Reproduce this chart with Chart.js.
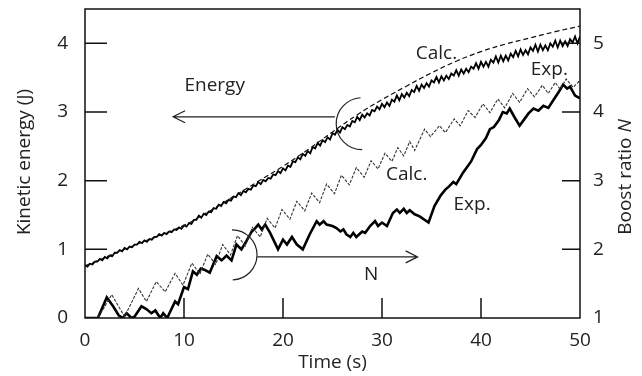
<!doctype html>
<html lang="en">
<head>
  <meta charset="UTF-8">
  <title>Kinetic energy and boost ratio</title>
  <style>
    html, body { margin: 0; padding: 0; background: #fff; }
    #chart { display: block; }
  </style>
</head>
<body>
  <canvas id="chart" width="642" height="376"></canvas>

  <script src="https://cdn.jsdelivr.net/npm/chart.js@4.4.1/dist/chart.umd.min.js"></script>
  <script>
    // axis ticks
    const timeTicks = [0, 10, 20, 30, 40, 50];
    const energyTicks = [0, 1, 2, 3, 4];
    const boostTicks = [1, 2, 3, 4, 5];

    // kinetic energy, calculated (J)
    const energyCalcT = [0, 2.5, 5, 7.5, 10, 12.5, 15, 17.5, 20, 22.5, 25, 27.5, 30, 32.5, 35, 37.5, 40, 42.5, 45, 47.5, 50];
    const energyCalc = [0.76, 0.91, 1.06, 1.20, 1.35, 1.55, 1.77, 1.99, 2.21, 2.45, 2.71, 2.96, 3.18, 3.38, 3.57, 3.74, 3.88, 3.99, 4.08, 4.17, 4.25];

    // kinetic energy, measured (J), one sample every 0.25 s
    const energyExp = [
      0.77, 0.75, 0.79, 0.78, 0.82, 0.82, 0.86, 0.84, 0.89, 0.87, 0.91, 0.90, 0.95, 0.95, 0.99, 0.97, 1.02, 1.00, 1.04, 1.03,
      1.07, 1.07, 1.11, 1.09, 1.13, 1.11, 1.15, 1.14, 1.18, 1.18, 1.22, 1.20, 1.24, 1.22, 1.26, 1.25, 1.29, 1.28, 1.32, 1.30,
      1.35, 1.33, 1.38, 1.37, 1.43, 1.43, 1.49, 1.46, 1.52, 1.50, 1.55, 1.54, 1.60, 1.59, 1.65, 1.63, 1.69, 1.67, 1.72, 1.71,
      1.77, 1.76, 1.82, 1.79, 1.85, 1.83, 1.88, 1.87, 1.93, 1.92, 1.98, 1.95, 2.01, 1.99, 2.04, 2.03, 2.09, 2.08, 2.14, 2.11,
      2.18, 2.15, 2.22, 2.20, 2.28, 2.27, 2.34, 2.31, 2.39, 2.36, 2.43, 2.40, 2.49, 2.47, 2.55, 2.51, 2.59, 2.56, 2.63, 2.60,
      2.69, 2.67, 2.74, 2.70, 2.78, 2.75, 2.81, 2.79, 2.87, 2.85, 2.93, 2.88, 2.96, 2.92, 2.98, 2.95, 3.03, 3.01, 3.08, 3.04,
      3.12, 3.07, 3.14, 3.09, 3.18, 3.15, 3.24, 3.17, 3.26, 3.21, 3.28, 3.23, 3.32, 3.29, 3.38, 3.31, 3.40, 3.35, 3.42, 3.37,
      3.46, 3.43, 3.51, 3.43, 3.52, 3.46, 3.53, 3.48, 3.56, 3.53, 3.61, 3.53, 3.62, 3.56, 3.63, 3.58, 3.66, 3.63, 3.71, 3.63,
      3.73, 3.66, 3.73, 3.66, 3.76, 3.72, 3.81, 3.72, 3.82, 3.74, 3.82, 3.75, 3.85, 3.80, 3.89, 3.81, 3.91, 3.83, 3.90, 3.84,
      3.94, 3.89, 3.98, 3.88, 3.98, 3.90, 3.97, 3.90, 4.00, 3.95, 4.04, 3.94, 4.04, 3.96, 4.03, 3.96, 4.06, 4.01, 4.10, 4.00,
      4.10
    ];
    const energyStep = 0.25;

    // boost ratio N, calculated
    const nCalcT = [0, 1.3, 2.7, 4.0, 5.4, 6.2, 7.2, 8.1, 9.1, 9.9, 10.8, 11.6, 12.4, 13.2, 13.9, 14.7, 15.4, 16.2, 16.9, 17.7,
      18.4, 19.2, 19.9, 20.7, 21.4, 22.2, 22.9, 23.7, 24.4, 25.2, 25.9, 26.7, 27.4, 28.2, 28.9, 29.6, 30.3, 31.0, 31.6, 32.2,
      32.8, 33.3, 34.3, 34.9, 35.8, 36.4, 37.3, 37.9, 38.7, 39.4, 40.2, 40.9, 41.7, 42.4, 43.2, 43.9, 44.7, 45.4, 46.2, 46.8,
      47.5, 48.0, 48.6, 49.3, 50.0];
    const nCalc = [1.00, 1.00, 1.34, 1.02, 1.43, 1.24, 1.53, 1.38, 1.65, 1.48, 1.80, 1.64, 1.93, 1.78, 2.07, 1.92, 2.20, 2.05, 2.32, 2.18,
      2.45, 2.31, 2.58, 2.44, 2.70, 2.56, 2.82, 2.68, 2.95, 2.81, 3.08, 2.94, 3.19, 3.05, 3.29, 3.17, 3.40, 3.28, 3.48, 3.36,
      3.57, 3.44, 3.75, 3.64, 3.80, 3.70, 3.90, 3.80, 4.02, 3.92, 4.12, 3.99, 4.19, 4.06, 4.27, 4.14, 4.34, 4.22, 4.39, 4.27,
      4.43, 4.33, 4.48, 4.36, 4.46];

    // boost ratio N, measured
    const nExpT = [0, 1.3, 2.2, 2.8, 3.4, 3.8, 4.2, 4.7, 5.0, 5.7, 6.2, 6.7, 7.1, 7.6, 7.9, 8.3, 9.1, 9.4, 10.0, 10.4,
      10.9, 11.3, 11.7, 12.1, 12.6, 13.3, 13.8, 14.3, 14.8, 15.3, 15.8, 16.3, 16.8, 17.2, 17.5, 17.85, 18.2, 18.7, 19.5, 20.0,
      20.4, 20.9, 21.4, 22.0, 22.7, 23.4, 23.7, 24.1, 24.4, 25.0, 25.4, 25.8, 26.1, 26.4, 26.8, 27.1, 27.4, 28.0, 28.3, 28.8,
      29.3, 29.6, 30.0, 30.5, 31.1, 31.5, 31.8, 32.2, 32.5, 32.8, 33.3, 33.8, 34.7, 35.3, 35.9, 36.4, 36.8, 37.2, 37.5, 38.2,
      38.6, 39.0, 39.6, 40.0, 40.5, 40.9, 41.3, 41.8, 42.2, 42.6, 42.9, 43.4, 43.9, 44.4, 44.8, 45.3, 45.8, 46.3, 46.8, 47.3,
      47.8, 48.3, 48.7, 49.0, 49.5, 50.0];
    const nExp = [1.00, 1.00, 1.30, 1.18, 1.04, 1.00, 1.07, 1.00, 1.02, 1.17, 1.13, 1.07, 1.11, 1.00, 1.07, 1.00, 1.24, 1.20, 1.45, 1.42,
      1.68, 1.63, 1.72, 1.70, 1.66, 1.90, 1.84, 1.91, 1.84, 2.07, 2.00, 2.12, 2.25, 2.31, 2.36, 2.29, 2.36, 2.24, 2.00, 2.14,
      2.07, 2.18, 2.07, 2.00, 2.22, 2.41, 2.36, 2.41, 2.36, 2.34, 2.31, 2.26, 2.29, 2.22, 2.18, 2.24, 2.18, 2.26, 2.24, 2.34,
      2.41, 2.34, 2.39, 2.34, 2.53, 2.58, 2.53, 2.59, 2.53, 2.57, 2.51, 2.48, 2.39, 2.63, 2.78, 2.87, 2.92, 2.98, 2.95, 3.12,
      3.20, 3.28, 3.46, 3.52, 3.62, 3.75, 3.78, 3.88, 4.00, 3.98, 4.05, 3.92, 3.80, 3.90, 3.98, 4.05, 4.02, 4.09, 4.06, 4.17,
      4.28, 4.40, 4.34, 4.37, 4.24, 4.20];

    const FONT = '"Open Sans", Lato, sans-serif';
    const SIZE = 19;
    const INK = '#222';

    function pts(xs, ys) {
      return ys.map((v, i) => ({ x: xs[i], y: v }));
    }

    function arrowLine(ctx, x1, y, x2) {
      // straight line ending in an open arrow head at x2
      const dir = Math.sign(x2 - x1);
      ctx.beginPath();
      ctx.moveTo(x1, y);
      ctx.lineTo(x2, y);
      ctx.moveTo(x2 - dir * 12, y - 6);
      ctx.lineTo(x2, y);
      ctx.lineTo(x2 - dir * 12, y + 6);
      ctx.stroke();
    }

    const decor = {
      id: 'decor',
      afterDatasetsDraw(chart) {
        const { ctx, chartArea: a } = chart;
        const { x, yE, yN } = chart.scales;
        ctx.save();

        // frame
        ctx.strokeStyle = '#111';
        ctx.lineWidth = 1.5;
        ctx.strokeRect(a.left, a.top, a.right - a.left, a.bottom - a.top);

        // inward tick marks
        ctx.beginPath();
        timeTicks.slice(1, -1).forEach(v => {
          const px = x.getPixelForValue(v);
          ctx.moveTo(px, a.bottom);
          ctx.lineTo(px, a.bottom - 20);
        });
        energyTicks.slice(1).forEach(v => {
          const py = yE.getPixelForValue(v);
          ctx.moveTo(a.left, py);
          ctx.lineTo(a.left + 22, py);
        });
        boostTicks.slice(1).forEach(v => {
          const py = yN.getPixelForValue(v);
          ctx.moveTo(a.right, py);
          ctx.lineTo(a.right - 18, py);
        });
        ctx.stroke();

        // brackets and arrows
        ctx.lineWidth = 1.2;
        ctx.strokeStyle = '#222';
        ctx.beginPath();
        ctx.arc(x.getPixelForValue(28.0), yE.getPixelForValue(2.83), 26, Math.PI * 0.5, Math.PI * 1.48);
        ctx.stroke();
        ctx.beginPath();
        ctx.arc(x.getPixelForValue(14.85), yN.getPixelForValue(1.92), 25, -Math.PI * 0.5, Math.PI * 0.49);
        ctx.stroke();

        const eY = yE.getPixelForValue(2.93);
        arrowLine(ctx, x.getPixelForValue(25.25), eY, x.getPixelForValue(8.9));
        const nY = yN.getPixelForValue(1.89);
        arrowLine(ctx, x.getPixelForValue(17.4), nY, x.getPixelForValue(33.6));

        // in-plot labels
        ctx.fillStyle = INK;
        ctx.font = SIZE + 'px ' + FONT;
        ctx.textAlign = 'center';
        ctx.textBaseline = 'middle';
        ctx.fillText('Energy', x.getPixelForValue(13.1), yE.getPixelForValue(3.38));
        ctx.fillText('N', x.getPixelForValue(28.9), yN.getPixelForValue(1.63));
        ctx.fillText('Calc.', x.getPixelForValue(35.5), yE.getPixelForValue(3.85));
        ctx.fillText('Exp.', x.getPixelForValue(46.9), yE.getPixelForValue(3.62));
        ctx.fillText('Calc.', x.getPixelForValue(32.5), yN.getPixelForValue(3.09));
        ctx.fillText('Exp.', x.getPixelForValue(39.1), yN.getPixelForValue(2.65));

        // axis titles
        ctx.fillText('Time (s)', (a.left + a.right) / 2, 363);

        ctx.save();
        ctx.translate(25, 162);
        ctx.rotate(-Math.PI / 2);
        ctx.fillText('Kinetic energy (J)', 0, 0);
        ctx.restore();

        ctx.save();
        ctx.translate(626, 177);
        ctx.rotate(-Math.PI / 2);
        const head = 'Boost ratio ';
        ctx.font = SIZE + 'px ' + FONT;
        const w1 = ctx.measureText(head).width;
        ctx.font = 'italic ' + SIZE + 'px ' + FONT;
        const w2 = ctx.measureText('N').width;
        ctx.textAlign = 'left';
        ctx.font = SIZE + 'px ' + FONT;
        ctx.fillText(head, -(w1 + w2) / 2, 0);
        ctx.font = 'italic ' + SIZE + 'px ' + FONT;
        ctx.fillText('N', -(w1 + w2) / 2 + w1, 0);
        ctx.restore();

        ctx.restore();
      }
    };

    const tickFont = { family: FONT, size: SIZE };

    // keep the plot box fixed: no extra room for half tick labels
    function noPad(s) {
      s.paddingTop = 0;
      s.paddingBottom = 0;
      s.paddingLeft = 0;
      s.paddingRight = 0;
    }

    new Chart('chart', {
      type: 'scatter',
      data: {
        datasets: [
          {
            label: 'Energy calc.',
            data: pts(energyCalcT, energyCalc),
            yAxisID: 'yE',
            showLine: true,
            borderColor: '#111',
            borderWidth: 1.2,
            borderDash: [5, 3],
            tension: 0.4,
            pointRadius: 0
          },
          {
            label: 'Energy exp.',
            data: energyExp.map((v, i) => ({ x: i * energyStep, y: v })),
            yAxisID: 'yE',
            showLine: true,
            borderColor: '#000',
            borderWidth: 1.8,
            pointRadius: 0
          },
          {
            label: 'N calc.',
            data: pts(nCalcT, nCalc),
            yAxisID: 'yN',
            showLine: true,
            borderColor: '#333',
            borderWidth: 1.1,
            borderDash: [3, 1.5],
            pointRadius: 0
          },
          {
            label: 'N exp.',
            data: pts(nExpT, nExp),
            yAxisID: 'yN',
            showLine: true,
            borderColor: '#000',
            borderWidth: 2.6,
            pointRadius: 0
          }
        ]
      },
      options: {
        responsive: false,
        animation: false,
        layout: { padding: { top: 9, right: 0, bottom: 0, left: 0 } },
        plugins: { legend: { display: false }, tooltip: { enabled: false } },
        scales: {
          x: {
            type: 'linear',
            position: 'bottom',
            min: 0,
            max: 50,
            afterBuildTicks: s => { s.ticks = timeTicks.map(v => ({ value: v })); },
            afterFit: s => { s.height = 58; noPad(s); },
            grid: { display: false, drawTicks: false },
            border: { display: false },
            ticks: { font: tickFont, color: INK, padding: 11, maxRotation: 0 }
          },
          yE: {
            type: 'linear',
            position: 'left',
            min: 0,
            max: 4.5,
            afterBuildTicks: s => { s.ticks = energyTicks.map(v => ({ value: v })); },
            afterFit: s => { s.width = 85; noPad(s); },
            grid: { display: false, drawTicks: false },
            border: { display: false },
            ticks: { font: tickFont, color: INK, padding: 17 }
          },
          yN: {
            type: 'linear',
            position: 'right',
            min: 1,
            max: 5.5,
            afterBuildTicks: s => { s.ticks = boostTicks.map(v => ({ value: v })); },
            afterFit: s => { s.width = 62; noPad(s); },
            grid: { display: false, drawTicks: false },
            border: { display: false },
            ticks: { font: tickFont, color: INK, padding: 13 }
          }
        }
      },
      plugins: [decor]
    });
  </script>
</body>
</html>
